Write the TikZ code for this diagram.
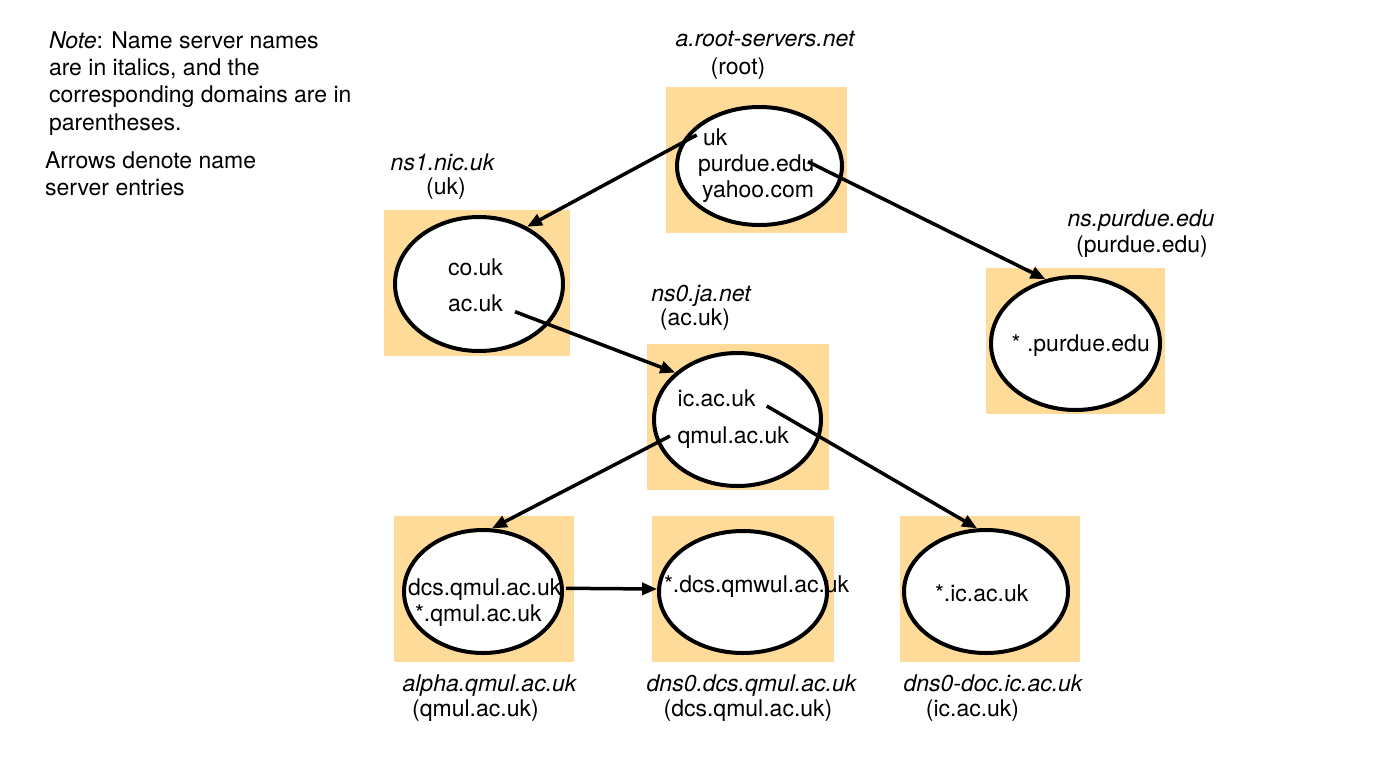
\documentclass[tikz,border=0pt]{standalone}
\usepackage{fontspec}
\setmainfont{TeX Gyre Heros}
\usetikzlibrary{shapes.geometric,arrows.meta}
\definecolor{boxfill}{RGB}{255,219,153}
\begin{document}
\begin{tikzpicture}[x=1pt,y=-1pt,
  txt/.style={inner sep=0pt, outer sep=0pt, font=\fontsize{23pt}{27.5pt}\selectfont},
  lab/.style={txt, anchor=base},
  lft/.style={txt, anchor=base west},
  nsname/.style={lab, font=\fontsize{23pt}{27.5pt}\selectfont\itshape},
  srvbox/.style={fill=boxfill, draw=none, inner sep=0pt, outer sep=0pt},
  srv/.style={ellipse, draw, line width=4pt, fill=white, inner sep=0pt},
  entry/.style={line width=3.5pt, -{Triangle[length=15pt,width=12pt]}},
]
\useasboundingbox (0,0) rectangle (1382,756);

% note
\node[lft] (n1) at (49,48.3) {\textit{Note}: Name server names};
\node[lft] (n2) at (49,75.5) {are in italics, and the};
\node[lft] (n3) at (49,102.5) {corresponding domains are in};
\node[lft] (n4) at (49,130) {parentheses.};
\node[lft] (a1) at (45,168) {Arrows denote name};
\node[lft] (a2) at (45,195) {server entries};

% boxes
\node[srvbox, minimum width=181pt, minimum height=146pt] (rootbox) at (756.5,160) {};
\node[srvbox, minimum width=186pt, minimum height=146pt] (ns1box) at (477,283) {};
\node[srvbox, minimum width=182pt, minimum height=146pt] (acbox) at (738,416.5) {};
\node[srvbox, minimum width=179pt, minimum height=146pt] (purbox) at (1075.5,341) {};
\node[srvbox, minimum width=180pt, minimum height=146pt] (alphabox) at (484,589) {};
\node[srvbox, minimum width=182pt, minimum height=146pt] (dcsbox) at (743,589) {};
\node[srvbox, minimum width=180pt, minimum height=146pt] (icbox) at (990,589) {};

% ellipses
\node[srv, minimum width=165pt, minimum height=118pt] (root) at (759.5,166) {};
\node[srv, minimum width=168pt, minimum height=134pt] (ns1) at (479,284) {};
\node[srv, minimum width=167pt, minimum height=133pt] (ac) at (737.5,419.5) {};
\node[srv, minimum width=169pt, minimum height=133pt] (pur) at (1075.5,343.5) {};
\node[srv, minimum width=158pt, minimum height=123pt] (alpha) at (483,591.5) {};
\node[srv, minimum width=168pt, minimum height=122pt] (dcs) at (743,592) {};
\node[srv, minimum width=164pt, minimum height=123pt] (ic) at (986,591.5) {};

% server names and domains
\node[nsname] (rootname) at (765,46.5) {a.root-servers.net};
\node[lab] (rootdom) at (738,74.5) {(root)};
\node[nsname] (ns1name) at (442.5,170) {ns1.nic.uk};
\node[lab] (ns1dom) at (446,194.5) {(uk)};
\node[nsname] (acname) at (701,301.5) {ns0.ja.net};
\node[lab] (acdom) at (695,325.5) {(ac.uk)};
\node[nsname] (purname) at (1141,226.7) {ns.purdue.edu};
\node[lab] (purdom) at (1142,252.5) {(purdue.edu)};
\node[nsname] (alphaname) at (489.5,691.7) {alpha.qmul.ac.uk};
\node[lab] (alphadom) at (475.5,716.5) {(qmul.ac.uk)};
\node[nsname] (dcsname) at (751.5,691.7) {dns0.dcs.qmul.ac.uk};
\node[lab] (dcsdom) at (748,716.5) {(dcs.qmul.ac.uk)};
\node[nsname] (icname) at (993,691.7) {dns0-doc.ic.ac.uk};
\node[lab] (icdom) at (972.5,716.5) {(ic.ac.uk)};

% entries
\node[lft] (e-uk) at (703,145) {uk};
\node[lft] (e-pur) at (698,171.5) {purdue.edu};
\node[lft] (e-yahoo) at (702,197) {yahoo.com};
\node[lab] (e-co) at (475.5,275) {co.uk};
\node[lab] (e-acuk) at (475.5,311.7) {ac.uk};
\node[lft] (e-ic) at (677.7,406.7) {ic.ac.uk};
\node[lft] (e-qmul) at (677.7,443.3) {qmul.ac.uk};
\node[lft] (e-starpur) at (1011.7,351.7) {* .purdue.edu};
\node[lft] (e-dcs) at (408,595) {dcs.qmul.ac.uk};
\node[lft] (e-starqmul) at (415,621.7) {*.qmul.ac.uk};
\node[lft] (e-stardcs) at (664,592.7) {*.dcs.qmwul.ac.uk};
\node[lft] (e-staric) at (935,601.7) {*.ic.ac.uk};

% arrow start points
\coordinate (s-uk) at (696.7,135);
\coordinate (s-pur) at (808,161.7);
\coordinate (s-acuk) at (515,311.7);
\coordinate (s-qmul) at (670,436);
\coordinate (s-ic) at (766.7,406);
\coordinate (s-dcs) at (566,588.3);

\draw[entry] (s-uk) -- (ns1.50);
\draw[entry] (s-pur) -- (pur.115);
\draw[entry] (s-acuk) -- (ac.143);
\draw[entry] (s-qmul) -- (alpha.82);
\draw[entry] (s-ic) -- (ic.98);
\draw[entry] (s-dcs) -- (dcs.178);
\end{tikzpicture}
\end{document}
